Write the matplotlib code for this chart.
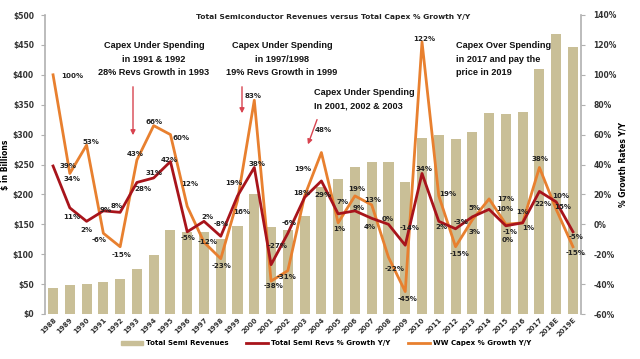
import matplotlib
matplotlib.use("Agg")
import matplotlib.pyplot as plt
from matplotlib.patches import Patch, FancyArrowPatch
from matplotlib.lines import Line2D
import numpy as np

years = ["1988", "1989", "1990", "1991", "1992", "1993", "1994", "1995", "1996", "1997",
         "1998", "1999", "2000", "2001", "2002", "2003", "2004", "2005", "2006", "2007",
         "2008", "2009", "2010", "2011", "2012", "2013", "2014", "2015", "2016", "2017",
         "2018E", "2019E"]
revenues = [44, 49, 50, 54, 59, 76, 98, 140, 137, 137,
            125, 147, 200, 146, 140, 164, 213, 226, 246, 255,
            255, 220, 295, 300, 292, 305, 336, 335, 338, 410,
            469, 447]
rev_growth = [39, 11, 2, 9, 8, 28, 31, 42, -5, 2,
              -8, 19, 38, -27, -6, 18, 29, 7, 9, 4,
              0, -14, 34, 2, -3, 5, 10, -1, 1, 22,
              15, -5]
capex_growth = [100, 34, 53, -6, -15, 43, 66, 60, 12, -12,
                -23, 16, 83, -38, -31, 19, 48, 1, 19, 13,
                -22, -45, 122, 19, -15, 3, 17, 0, 1, 38,
                10, -15]

# label offsets in pixels (dx right, dy down)
rev_off = [(15, 0), (2, 9), (0, 9), (2, -1), (-3, -6), (6, 7), (0, -5), (-1, -2), (1, 6), (3, -4),
           (0, -12), (-4, -13), (3, -3), (7, -19), (1, -10), (-3, -4), (2, 14), (4, -12), (4, -3), (-2, 9),
           (-1, -5), (4, -17), (2, -4), (3, 6), (6, -7), (2, -9), (16, 0), (4, 6), (0, -11), (4, 13),
           (7, 5), (3, 5)]
cap_off = [(19, 1), (2, 6), (4, -3), (-4, 7), (1, 8), (-2, -6), (0, -4), (11, 3), (3, -22), (4, 0),
           (1, 7), (4, 12), (-1, -4), (2, 5), (-1, 6), (-2, -27), (2, -23), (1, 6), (2, -7), (1, -5),
           (6, 12), (2, 7), (2, -3), (9, -2), (4, 7), (2, 12), (17, 0), (2, 16), (6, 5), (1, -8),
           (5, -13), (3, 6)]

BAR = "#C9BF97"
RED = "#A8141B"
ORANGE = "#E8802F"
ARROW = "#D8434F"

W, H = 640, 359
fig = plt.figure(figsize=(6.4, 3.59), dpi=100)
fig.patch.set_facecolor("white")
L, R, T, B = 45, 581, 15, 314
ax = fig.add_axes([L / W, 1 - B / H, (R - L) / W, (B - T) / H])
ax2 = ax.twinx()

x = np.arange(len(years))
ax.bar(x, revenues, width=0.6, color=BAR, zorder=1)
ax.set_ylim(0, 500)
ax.set_xlim(-0.48, len(years) - 0.52)
ax.set_yticks(np.arange(0, 501, 50))
ax.set_yticklabels(["$%d" % v for v in np.arange(0, 501, 50)])
ax.set_xticks(x)
ax.set_xticklabels(years, rotation=45, ha="right", rotation_mode="anchor")

ax2.plot(x, rev_growth, color=RED, lw=2.0, zorder=3)
ax2.plot(x, capex_growth, color=ORANGE, lw=2.0, zorder=2)
ax2.set_ylim(-60, 140)
ax2.set_yticks(np.arange(-60, 141, 20))
ax2.set_yticklabels(["%d%%" % v for v in np.arange(-60, 141, 20)])

for a in (ax, ax2):
    for s in ("top", "bottom"):
        a.spines[s].set_visible(False)
    a.spines["left"].set_visible(a is ax)
    a.spines["right"].set_visible(a is ax2)
    a.spines["left"].set_color("#B0B0B0")
    a.spines["right"].set_color("#B0B0B0")
    a.spines["left"].set_linewidth(1.2)
    a.spines["right"].set_linewidth(1.2)
ax.tick_params(axis="y", labelsize=5.5, length=3, color="#B0B0B0", pad=5)
ax2.tick_params(axis="y", labelsize=5.5, length=3, color="#B0B0B0", pad=6)
ax.tick_params(axis="x", labelsize=5, length=0, pad=2)
for lab in ax.get_yticklabels() + ax2.get_yticklabels() + ax.get_xticklabels():
    lab.set_fontweight("bold")
    lab.set_color("#333333")

ax.set_ylabel("$ in Billions", fontsize=5.5, fontweight="bold")
ax.yaxis.set_label_coords((10 - L) / (R - L), 0.5)
ax2.set_ylabel("% Growth Rates Y/Y", fontsize=5.5, fontweight="bold")
ax2.yaxis.set_label_coords((619 - L) / (R - L), 0.5)

lab_kw = dict(fontsize=5.1, fontweight="bold", color="#222222", ha="center", va="center",
              textcoords="offset pixels", zorder=5)
for i in range(len(years)):
    dx, dy = rev_off[i]
    ax2.annotate("%d%%" % rev_growth[i], (x[i], rev_growth[i]), xytext=(dx, -dy), **lab_kw)
    dx, dy = cap_off[i]
    ax2.annotate("%d%%" % capex_growth[i], (x[i], capex_growth[i]), xytext=(dx, -dy), **lab_kw)

def fp(px, py):
    return (px / W, 1 - py / H)

fig.text(*fp(333, 17), "Total Semiconductor Revenues versus Total Capex % Growth Y/Y",
         fontsize=5.4, fontweight="bold", ha="center", va="center", color="#222222")

note_kw = dict(fontsize=6.6, fontweight="bold", color="#111111", family="Liberation Sans",
               linespacing=1.6)
fig.text(*fp(154, 59), "Capex Under Spending\nin 1991 & 1992\n28% Revs Growth in 1993",
         ha="center", va="center", **note_kw)
fig.text(*fp(282, 59), "Capex Under Spending\nin 1997/1998\n19% Revs Growth in 1999",
         ha="center", va="center", **note_kw)
fig.text(*fp(314, 99), "Capex Under Spending\nIn 2001, 2002 & 2003",
         ha="left", va="center", **note_kw)
fig.text(*fp(456, 59), "Capex Over Spending\nin 2017 and pay the\nprice in 2019",
         ha="left", va="center", **note_kw)

arrows = [((133, 84), (133, 138)), ((242, 84), (242, 116)), ((318, 117), (307, 147))]
for (sx, sy), (ex, ey) in arrows:
    fig.add_artist(FancyArrowPatch(
        fp(sx, sy), fp(ex, ey), transform=fig.transFigure, arrowstyle="-|>",
        mutation_scale=7, color=ARROW, lw=1.0))

handles = [Patch(color=BAR), Line2D([], [], color=RED, lw=2), Line2D([], [], color=ORANGE, lw=2)]
labels = ["Total Semi Revenues", "Total Semi Revs % Growth Y/Y", "WW Capex % Growth Y/Y"]
fig.legend(handles, labels, loc="center", bbox_to_anchor=fp(326, 343), ncol=3, frameon=False,
           prop=dict(size=5, weight="bold"), handlelength=3.2, handleheight=0.5,
           columnspacing=2.5, handletextpad=0.4)

fig.savefig("out.png", dpi=100)
